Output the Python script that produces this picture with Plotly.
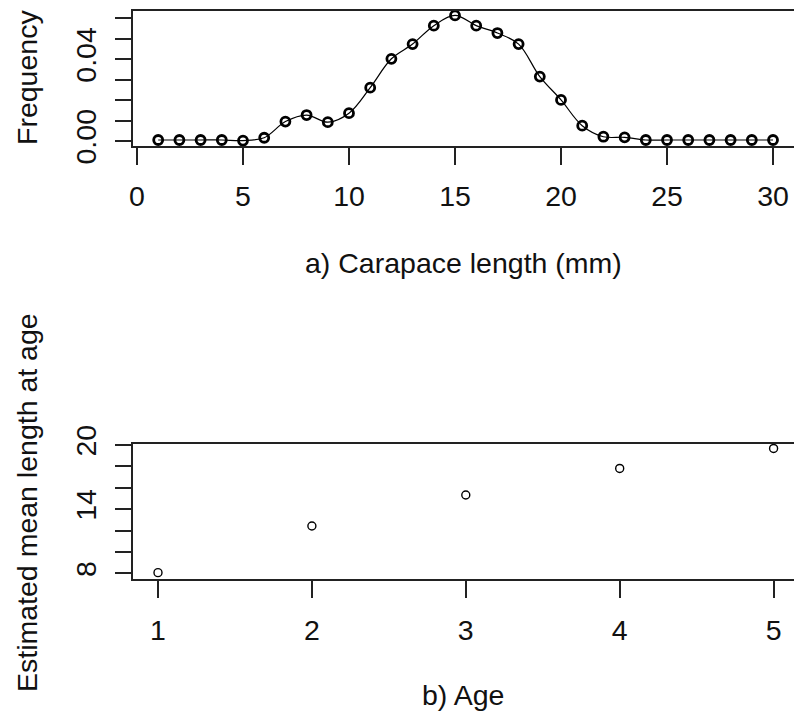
import plotly.graph_objects as go

# Length-frequency distribution (carapace length, mm)
lengths = list(range(1, 31))
frequency = [0.0005, 0.0005, 0.0005, 0.0005, 0.0002, 0.0016, 0.0095, 0.0127,
             0.0092, 0.0136, 0.0261, 0.0402, 0.0474, 0.0564, 0.0614, 0.0564,
             0.0528, 0.0474, 0.0315, 0.0201, 0.0075, 0.0021, 0.0018, 0.0005,
             0.0005, 0.0005, 0.0005, 0.0005, 0.0005, 0.0005]

# Estimated mean length at age
ages = [1, 2, 3, 4, 5]
mean_length = [8.06, 12.42, 15.32, 17.81, 19.68]

freq_ticks = [0.00, 0.01, 0.02, 0.03, 0.04, 0.05, 0.06]
freq_labels = ["0.00", "", "", "", "0.04", "", ""]
len_ticks = [0, 5, 10, 15, 20, 25, 30]
mlen_ticks = [8, 10, 12, 14, 16, 18, 20]
mlen_labels = ["8", "", "", "14", "", "", "20"]

W, H = 794, 713
FONT = "Liberation Sans, Arial, sans-serif"
FS = 28.5


def px(x):
    return x / W


def py(y):
    return 1 - y / H


fig = go.Figure()

fig.add_trace(go.Scatter(
    x=lengths, y=frequency, mode="lines+markers",
    line=dict(color="black", width=1.2, shape="spline", smoothing=1.0),
    marker=dict(symbol="circle-open", size=9, color="black",
                line=dict(width=2.8, color="black")),
    xaxis="x", yaxis="y", showlegend=False, hoverinfo="x+y"))

fig.add_trace(go.Scatter(
    x=ages, y=mean_length, mode="markers",
    marker=dict(symbol="circle-open", size=8, color="black",
                line=dict(width=1.4, color="black")),
    xaxis="x2", yaxis="y2", showlegend=False, hoverinfo="x+y"))

axis_common = dict(showgrid=False, zeroline=False, showline=True,
                   linecolor="#222", linewidth=2, ticks="outside",
                   tickcolor="#222", tickwidth=2, automargin=False,
                   tickfont=dict(family=FONT, size=FS, color="#111"))

fig.update_layout(
    template="none",
    width=W, height=H,
    margin=dict(l=0, r=0, t=0, b=0, pad=0, autoexpand=False),
    paper_bgcolor="white", plot_bgcolor="white",
    xaxis=dict(domain=[px(133), 1], range=[-0.1887, 30.99],
               tickmode="array", tickvals=len_ticks,
               ticktext=[str(v) for v in len_ticks], ticklabelstandoff=7,
               mirror=True, ticklen=17, anchor="y", **axis_common),
    yaxis=dict(domain=[py(146), py(11)], range=[-0.00244, 0.06357],
               tickmode="array", tickvals=freq_ticks, ticktext=freq_labels,
               tickangle=-90, ticklen=16, ticklabelstandoff=8,
               anchor="x", **axis_common),
    xaxis2=dict(domain=[px(133), 1], range=[0.8376, 5.1326],
                tickmode="array", tickvals=ages,
                ticktext=[str(v) for v in ages], ticklabelstandoff=7,
                mirror=True, ticklen=17, anchor="y2", **axis_common),
    yaxis2=dict(domain=[py(579.3), py(444)], range=[7.439, 20.095],
                tickmode="array", tickvals=mlen_ticks, ticktext=mlen_labels,
                tickangle=-90, ticklen=16, ticklabelstandoff=8,
                anchor="x2", **axis_common),
)

title_font = dict(family=FONT, size=FS, color="#111")
fig.add_annotation(text="a) Carapace length (mm)", x=px(463), y=py(263),
                   xref="paper", yref="paper", showarrow=False,
                   xanchor="center", yanchor="middle", font=title_font)
fig.add_annotation(text="Frequency", x=px(27), y=py(78),
                   xref="paper", yref="paper", showarrow=False, textangle=-90,
                   xanchor="center", yanchor="middle", font=title_font)
fig.add_annotation(text="b) Age", x=px(463), y=py(695),
                   xref="paper", yref="paper", showarrow=False,
                   xanchor="center", yanchor="middle", font=title_font)
fig.add_annotation(text="Estimated mean length at age", x=px(27), y=py(503),
                   xref="paper", yref="paper", showarrow=False, textangle=-90,
                   xanchor="center", yanchor="middle", font=title_font)

fig.write_html("out.html")
